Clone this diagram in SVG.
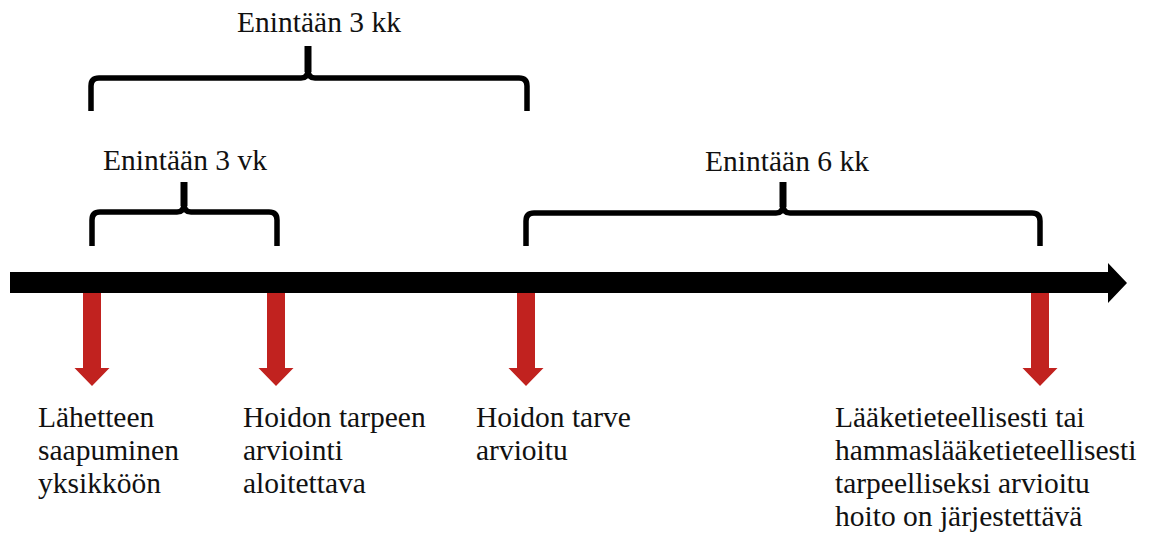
<svg xmlns="http://www.w3.org/2000/svg" width="1154" height="542" viewBox="0 0 1154 542">
<style>
.t{font-family:"Liberation Serif","Times New Roman",serif;font-size:29.5px;fill:#111}
.br{fill:none;stroke:#000;stroke-width:5.5;stroke-linejoin:round;stroke-linecap:butt}
.pk{fill:none;stroke:#000;stroke-width:7}
.red{fill:#c1221f}
</style>
<defs>
<path id="redArrow" class="red" d="M-9,0 H9 V75 H17.5 L0,93 L-17.5,75 H-9 Z"/>
</defs>
<rect width="1154" height="542" fill="#fff"/>
<g id="connectors">
<polygon id="timeline" points="10,272 1108,272 1108,263 1127,283 1108,303 1108,293 10,293" fill="#000"/>
<use href="#redArrow" x="92" y="293"/>
<use href="#redArrow" x="276" y="293"/>
<use href="#redArrow" x="526" y="293"/>
<use href="#redArrow" x="1040" y="293"/>
</g>
<g id="brace-3kk">
<path class="br" d="M91,111 V86 Q91,78 99,78 H301 Q308,78 308,70 Q308,78 315,78 H519 Q527,78 527,86 V111"/>
<path class="pk" d="M308,72 V46"/>
<text class="t" x="319" y="32" text-anchor="middle">Enintään 3 kk</text>
</g>
<g id="brace-3vk">
<path class="br" d="M92,246 V220 Q92,212 100,212 H177 Q184,212 184,204 Q184,212 191,212 H269 Q277,212 277,220 V246"/>
<path class="pk" d="M184,206 V182"/>
<text class="t" x="185" y="170" text-anchor="middle">Enintään 3 vk</text>
</g>
<g id="brace-6kk">
<path class="br" d="M526,246 V221 Q526,213 534,213 H776 Q783,213 783,205 Q783,213 790,213 H1032 Q1040,213 1040,221 V246"/>
<path class="pk" d="M783,207 V182"/>
<text class="t" x="787" y="171" text-anchor="middle">Enintään 6 kk</text>
</g>
<g id="label-1">
<text class="t" x="38" y="427">Lähetteen</text>
<text class="t" x="38" y="460">saapuminen</text>
<text class="t" x="38" y="493">yksikköön</text>
</g>
<g id="label-2">
<text class="t" x="243" y="427">Hoidon tarpeen</text>
<text class="t" x="243" y="460">arviointi</text>
<text class="t" x="243" y="493">aloitettava</text>
</g>
<g id="label-3">
<text class="t" x="476" y="427">Hoidon tarve</text>
<text class="t" x="476" y="460">arvioitu</text>
</g>
<g id="label-4">
<text class="t" x="835" y="427">Lääketieteellisesti tai</text>
<text class="t" x="835" y="460">hammaslääketieteellisesti</text>
<text class="t" x="835" y="493">tarpeelliseksi arvioitu</text>
<text class="t" x="835" y="526">hoito on järjestettävä</text>
</g>
</svg>
